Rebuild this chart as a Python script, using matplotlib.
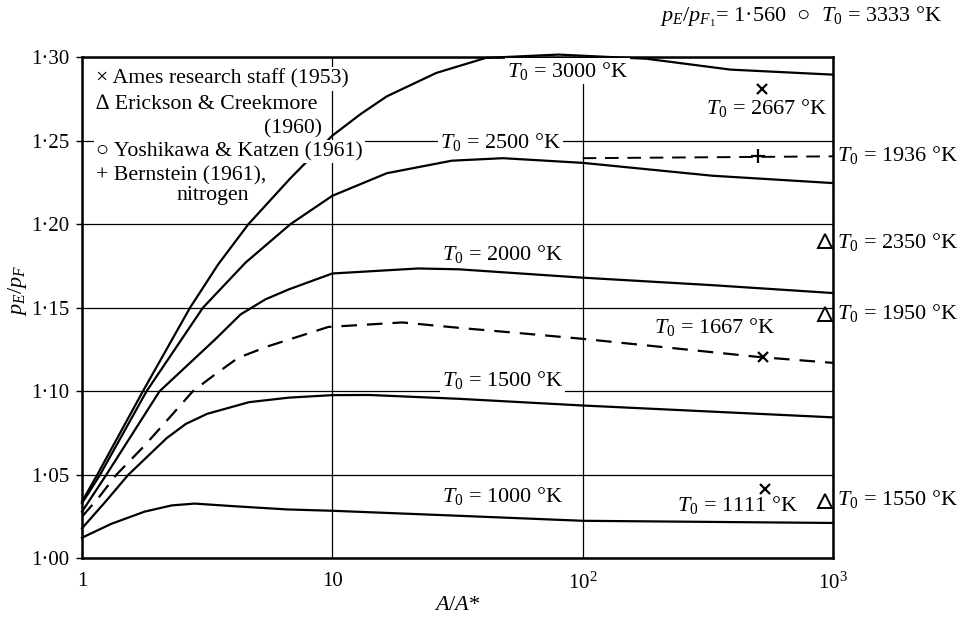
import matplotlib
matplotlib.use("Agg")
import matplotlib.pyplot as plt
import matplotlib.transforms as mtransforms
from matplotlib.ticker import FixedLocator, FixedFormatter, NullLocator

plt.rcParams['font.family'] = ['Liberation Serif', 'DejaVu Serif', 'DejaVu Sans']
plt.rcParams['mathtext.fontset'] = 'custom'
plt.rcParams['mathtext.rm'] = 'Liberation Serif'
plt.rcParams['mathtext.it'] = 'Liberation Serif:italic'
plt.rcParams['mathtext.bf'] = 'Liberation Serif:bold'
plt.rcParams['font.size'] = 16

# A/A* against pE/pF for each stagnation temperature
t1000_x = [1, 1.31, 1.78, 2.28, 2.82, 4.07, 6.6, 10, 32, 100, 1000]
t1000_y = [1.0124, 1.0207, 1.0280, 1.0317, 1.0328, 1.0312, 1.0293, 1.0285, 1.0255, 1.0225, 1.0212]

t1500_x = [1, 1.25, 1.53, 2.18, 2.6, 3.16, 4.65, 6.7, 10, 14, 32, 100, 1000]
t1500_y = [1.018, 1.0345, 1.05, 1.072, 1.0805, 1.0865, 1.0935, 1.0962, 1.0977, 1.0978, 1.0955,
           1.0915, 1.0844]

t1667_x = [1, 1.16, 1.37, 1.78, 2.21, 2.77, 3.29, 4.2, 5.55, 9.64, 19, 33, 56, 100, 500, 1000]
t1667_y = [1.025, 1.036, 1.05, 1.0676, 1.0834, 1.10, 1.1085, 1.12, 1.127, 1.1385, 1.1412, 1.1378,
           1.1348, 1.1314, 1.1206, 1.117]

t2000_x = [1, 1.25, 2.04, 3.4, 4.3, 5.4, 6.7, 10, 22, 32, 100, 330, 1000]
t2000_y = [1.028, 1.05, 1.10, 1.131, 1.146, 1.155, 1.161, 1.1705, 1.1735, 1.173, 1.168, 1.1635, 1.1588]

t2500_x = [1, 1.18, 1.81, 3.04, 4.5, 6.8, 10, 16.5, 30, 48, 100, 330, 1000]
t2500_y = [1.033, 1.05, 1.10, 1.15, 1.177, 1.20, 1.217, 1.2305, 1.238, 1.2395, 1.2367, 1.229, 1.2246]

t3000_x = [1, 1.15, 1.75, 2.7, 3.5, 4.62, 6.8, 10, 13, 16.5, 26, 41, 80, 180, 390, 1000]
t3000_y = [1.034, 1.05, 1.10, 1.15, 1.176, 1.20, 1.2275, 1.253, 1.266, 1.2765, 1.2905, 1.2995,
           1.3015, 1.299, 1.2925, 1.2895]

# Bernstein (1961) nitrogen, T0 = 1936 K
bern_line_x = [100, 1000]
bern_line_y = [1.2395, 1.2406]
bern_x = [500]
bern_y = [1.2406]

# experimental points
ames_x = [520, 525, 535]
ames_y = [1.281, 1.1206, 1.0413]
erick_x = [930, 930, 930]
erick_y = [1.190, 1.146, 1.0343]

yticks = [1.00, 1.05, 1.10, 1.15, 1.20, 1.25, 1.30]
ytick_labels = ['1·00', '1·05', '1·10', '1·15', '1·20', '1·25', '1·30']
xticks = [1, 10, 100, 1000]
xtick_labels = ['1', '10', '$10^2$', '$10^3$']

fig = plt.figure(figsize=(9.65, 6.26), dpi=100)
ax = fig.add_axes([0.085, 0.108, 0.7782, 0.8008])
ax.set_xscale('log')
ax.set_xlim(1, 1000)
ax.set_ylim(1.0, 1.3)

lw = 1.6
for xs, ys in [(t1000_x, t1000_y), (t1500_x, t1500_y), (t2000_x, t2000_y),
               (t2500_x, t2500_y), (t3000_x, t3000_y)]:
    ax.plot(xs, ys, color='black', lw=lw, zorder=2, clip_on=False)
ax.plot(t1667_x, t1667_y, color='black', lw=lw, ls=(0, (7, 4.5)), zorder=2)
ax.plot(bern_line_x, bern_line_y, color='black', lw=1.4, ls=(0, (7, 4.5)), zorder=2)

ax.plot(ames_x, ames_y, ls='none', marker='x', ms=7, mew=1.6, color='black', zorder=5)
ax.plot(erick_x, erick_y, ls='none', marker='^', ms=10, mew=1.4, mfc='white',
        color='black', zorder=5, clip_on=False)
ax.plot(bern_x, bern_y, ls='none', marker='+', ms=10, mew=1.6, color='black', zorder=5)

# grid
ax.xaxis.set_major_locator(FixedLocator(xticks))
ax.xaxis.set_major_formatter(FixedFormatter(xtick_labels))
ax.xaxis.set_minor_locator(NullLocator())
ax.yaxis.set_major_locator(FixedLocator(yticks))
ax.yaxis.set_major_formatter(FixedFormatter(ytick_labels))
ax.grid(True, color='black', lw=0.9)
ax.set_axisbelow(True)
for s in ax.spines.values():
    s.set_linewidth(1.8)
ax.tick_params(axis='both', length=4, width=1, direction='out', labelsize=15)
ax.tick_params(axis='x', pad=10, length=0)
ax.tick_params(axis='y', pad=5)

ax.set_xlabel('$A/A$*', fontsize=16, labelpad=2)
ax.set_ylabel('$p_E/p_F$', fontsize=16)
ax.yaxis.set_label_coords(-0.071, 0.535)

box = dict(facecolor='white', edgecolor='none', pad=1.5)

# curve labels: (text, x, y baseline)
curve_labels = [('3000', 87, 1.2878), ('2500', 47, 1.2455), ('2000', 48, 1.1787),
                ('1667', 338, 1.135), ('1500', 48, 1.103), ('1000', 48, 1.0335),
                ('2667', 545, 1.2661), ('1111', 414, 1.0281)]
for t, x, y in curve_labels:
    ax.text(x, y, '$T_0$ = %s °K' % t, ha='center', va='baseline', bbox=box, zorder=3)

# labels outside right edge
right_labels = [('1936', 1.2376), ('2350', 1.1856), ('1950', 1.143), ('1550', 1.0318)]
trans = mtransforms.blended_transform_factory(ax.transAxes, ax.transData)
for t, y in right_labels:
    ax.text(1.005, y, '$T_0$ = %s °K' % t, transform=trans, ha='left', va='baseline')

# key
key = [('× Ames research staff (1953)', 0.019, 0.9475, 'left'),
       ('∆ Erickson & Creekmore', 0.019, 0.8957, 'left'),
       ('(1960)', 0.3192, 0.8478, 'right'),
       ('○ Yoshikawa & Katzen (1961)', 0.019, 0.8025, 'left'),
       ('+ Bernstein (1961),', 0.019, 0.7547, 'left'),
       ('nitrogen', 0.1744, 0.7148, 'center')]
for t, x, y, ha in key:
    ax.text(x, y, t, transform=ax.transAxes, ha=ha, va='baseline', fontsize=15.7,
            bbox=box, zorder=3)

fig.text(0.977, 0.965, '$p_E/p_{F_1}$= 1·560  ○  $T_0$ = 3333 °K', ha='right', va='baseline')

fig.savefig('out.png', dpi=100)
